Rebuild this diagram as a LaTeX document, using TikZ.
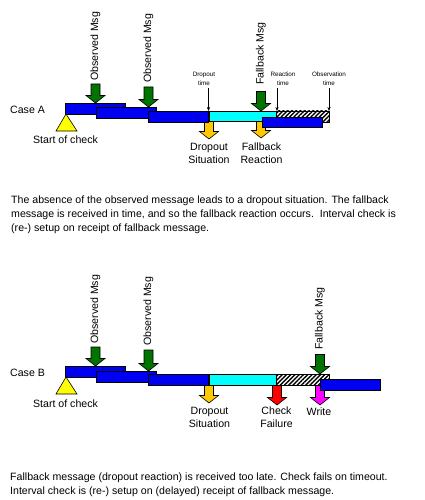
\documentclass[tikz,border=0pt]{standalone}
\usepackage{fontspec}
\setmainfont{Liberation Sans}
\usetikzlibrary{patterns.meta,arrows.meta}
\definecolor{barblue}{RGB}{0,0,240}
\definecolor{msggreen}{RGB}{0,115,0}
\definecolor{dropgold}{RGB}{255,200,0}
\definecolor{reactcyan}{RGB}{0,255,255}
\definecolor{startyellow}{RGB}{255,255,0}
\definecolor{failred}{RGB}{255,0,0}
\definecolor{writemag}{RGB}{255,0,255}
\newcommand\dnarrow[4]{%
  \filldraw[fill=#1,draw=black,line width=0.6pt]
    (#2-4.5,#3) -- (#2+4.5,#3) -- (#2+4.5,#4-7.5) -- (#2+9.5,#4-7.5) -- (#2,#4)
    -- (#2-9.5,#4-7.5) -- (#2-4.5,#4-7.5) -- cycle;}
\newcommand\tbar[5]{%
  \filldraw[fill=#5,barline] (#1,#2) rectangle (#3,#4);}
\newcommand\hatchbar[4]{%
  \fill[white] (#1,#2) rectangle (#3,#4);
  \draw[barline,pattern={Lines[angle=45,distance=3pt,line width=1.4pt]}] (#1,#2) rectangle (#3,#4);}
\newcommand\starttri[2]{%
  \filldraw[fill=startyellow,draw=black,line width=0.6pt] (#1,#2) -- (#1+11,#2+17) -- (#1-10,#2+17) -- cycle;}
\begin{document}
\begin{tikzpicture}[x=1pt,y=-1pt,
  lbl/.style={font=\fontsize{10.6}{13}\selectfont, inner sep=0pt, align=center},
  small/.style={font=\fontsize{6.3}{9}\selectfont, inner sep=0pt, align=center},
  vlbl/.style={font=\fontsize{10.6}{12}\selectfont, rotate=90, anchor=west, inner sep=0pt},
  para/.style={font=\fontsize{10.6}{14}\selectfont, inner sep=0pt, align=left, anchor=north west},
  barline/.style={draw=black, line width=0.8pt},
  thinarrow/.style={-{Stealth[length=4pt,width=3.2pt]}, line width=0.6pt}]
\useasboundingbox[fill=white] (0,0) rectangle (424,500);

% ================= Case A =================
\node[lbl, anchor=west] (caseA) at (10,110) {Case A};
% gold arrows below (drawn first)
\dnarrow{dropgold}{209}{121}{139}
\dnarrow{dropgold}{261}{120}{138}
% bars
\tbar{65}{103}{125}{114}{barblue}
\tbar{96}{107}{156}{118}{barblue}
\tbar{148}{111}{208}{122}{barblue}
\tbar{209}{111}{276}{121.5}{reactcyan}
\hatchbar{276}{111}{329}{122}
\tbar{262}{117}{322}{127}{barblue}
% green message arrows
\dnarrow{msggreen}{95.5}{84}{103}
\dnarrow{msggreen}{148.5}{87}{107}
\dnarrow{msggreen}{261}{91.5}{111}
\node[vlbl] (obsA1) at (95.5,81) {Observed Msg};
\node[vlbl] (obsA2) at (148.5,83) {Observed Msg};
\node[vlbl] (fbA) at (261,85) {Fallback Msg};
% start triangle
\starttri{66}{114}
\node[lbl] (startA) at (65.5,140) {Start of check};
% time labels
\node[small] (dtA) at (204,78.5) {Dropout\\time};
\node[small] (rtA) at (283,78.5) {Reaction\\time};
\node[small] (otA) at (329,78.5) {Observation\\time};
\coordinate (dtAs) at (208.5,88); \coordinate (dtAe) at (208.5,111);
\coordinate (rtAs) at (277,88);   \coordinate (rtAe) at (277,111);
\coordinate (otAs) at (329,88);   \coordinate (otAe) at (329,111);
\draw[thinarrow] (dtAs) -- (dtAe);
\draw[thinarrow] (rtAs) -- (rtAe);
\draw[thinarrow] (otAs) -- (otAe);
% outcome labels
\node[lbl] (dsA) at (209,153.5) {Dropout\\Situation};
\node[lbl] (frA) at (261.5,153.5) {Fallback\\Reaction};
% description
\node[para] (descA) at (11,196) {The absence of the observed message leads to a dropout situation. The fallback\\
message is received in time, and so the fallback reaction occurs.\ \ Interval check is\\
(re-) setup on receipt of fallback message.};

% ================= Case B =================
\node[lbl, anchor=west] (caseB) at (10,373) {Case B};
\dnarrow{dropgold}{209}{384.5}{403}
\dnarrow{failred}{277}{384.5}{405}
\dnarrow{writemag}{320}{384.5}{405}
\tbar{65}{366}{125}{377}{barblue}
\tbar{96}{371}{156}{382}{barblue}
\tbar{148}{374}{208}{385}{barblue}
\tbar{209}{374}{276}{385}{reactcyan}
\hatchbar{276}{374}{329}{385}
\tbar{320}{379}{380}{390}{barblue}
\dnarrow{msggreen}{95.5}{347}{366}
\dnarrow{msggreen}{148.5}{350}{371}
\dnarrow{msggreen}{320}{354.5}{374}
\node[vlbl] (obsB1) at (95.5,344) {Observed Msg};
\node[vlbl] (obsB2) at (148.5,346) {Observed Msg};
\node[vlbl] (fbB) at (320,350) {Fallback Msg};
\starttri{66}{377}
\node[lbl] (startB) at (65.5,403.5) {Start of check};
\node[lbl] (dsB) at (209.5,417.5) {Dropout\\Situation};
\node[lbl] (cfB) at (276.5,417.5) {Check\\Failure};
\node[lbl] (wrB) at (319,412) {Write};
\node[para] (descB) at (10,472.5) {Fallback message (dropout reaction) is received too late. Check fails on timeout.\\
Interval check is (re-) setup on (delayed) receipt of fallback message.};
\end{tikzpicture}
\end{document}
